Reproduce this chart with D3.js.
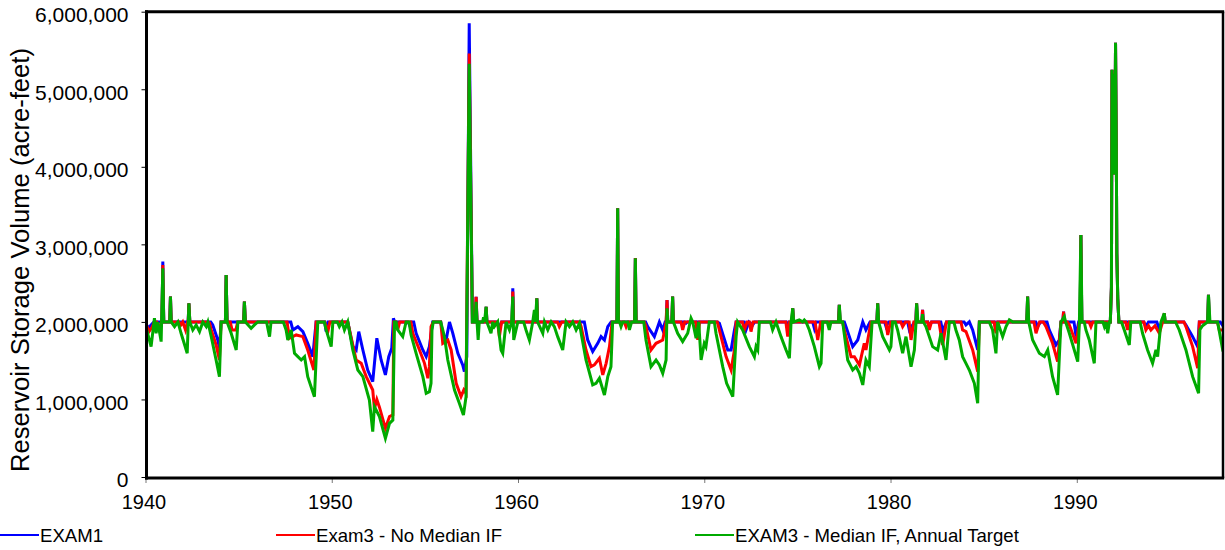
<!DOCTYPE html>
<html>
<head>
<meta charset="utf-8">
<script src="https://cdn.jsdelivr.net/npm/d3@7"></script>
<style>
  body{margin:0;background:#fff;}
  svg text{font-family:"Liberation Sans",Arial,sans-serif;fill:#000;}
</style>
</head>
<body>
<svg id="chart"></svg>
<script>
// storage values are in thousand acre-feet, [decimal year, value]
var spike1992=[[1991.80,2000],[1991.86,2450],[1991.89,5250],[1991.92,3900],[1991.95,5200],[1991.98,3900],[1992.01,5150],[1992.04,4000],[1992.08,5600],[1992.12,4300],[1992.15,2880],[1992.20,2300],[1992.26,2000]];

var exam1=[
[1940.00,1990],[1940.15,1920],[1940.30,1960],[1940.45,2000],
[1940.88,2000],[1940.93,2778],[1940.98,2000],
[1941.30,2000],[1941.34,2326],[1941.38,2000],
[1942.29,2000],[1942.33,2240],[1942.38,2000],
[1943.50,2000],[1943.61,1961],[1943.88,1767],[1943.97,1660],[1944.06,2000],
[1944.29,2000],[1944.33,2606],[1944.38,2000],
[1945.27,2000],[1945.31,2262],[1945.36,2000],
[1947.80,2000],[1947.91,1896],[1948.18,1939],[1948.45,1875],[1948.71,1724],[1948.98,1552],[1949.16,2000],
[1949.62,2000],[1949.70,1875],[1949.80,2000],
[1950.86,2000],[1951.13,1681],[1951.31,1638],[1951.45,1875],[1951.67,1638],[1951.93,1380],[1952.20,1230],[1952.42,1789],[1952.65,1509],[1952.88,1316],[1953.06,1552],[1953.22,1660],[1953.31,2047],[1953.38,2000],
[1954.10,2000],[1954.17,1961],[1954.26,2000],[1954.40,2000],[1954.53,1853],[1954.89,1638],[1955.07,1552],[1955.24,1680],[1955.42,2000],
[1955.85,2000],[1955.96,1853],[1956.14,1767],[1956.32,2000],[1956.50,1853],[1956.77,1595],[1957.03,1445],[1957.12,1359],[1957.25,1552],
[1957.38,5850],[1957.55,2000],
[1957.70,2000],[1957.75,2325],[1957.80,2000],
[1958.25,2000],[1958.29,2196],[1958.33,2000],
[1958.90,2000],[1959.00,1896],[1959.12,2000],
[1959.68,2000],[1959.72,2434],[1959.76,2000],
[1960.97,2000],[1961.01,2304],[1961.05,2000],
[1963.56,2000],[1963.74,1767],[1964.01,1617],[1964.28,1724],[1964.46,1810],[1964.64,1767],[1964.82,1939],[1965.00,2000],
[1965.31,2000],[1965.35,3465],[1965.39,2000],
[1966.26,2000],[1966.30,2825],[1966.34,2000],
[1966.85,2000],[1966.96,1939],[1967.32,1810],[1967.59,2000],[1967.77,1896],[1967.90,2000],
[1967.96,2000],[1968.00,2283],[1968.04,2000],
[1968.26,2000],[1968.30,2326],[1968.34,2000],
[1968.95,2000],[1969.02,1983],[1969.10,2000],
[1970.70,2000],[1970.81,1983],[1971.26,1638],[1971.44,1638],[1971.62,1896],[1971.71,2000],
[1972.15,2000],[1972.24,1896],[1972.40,2000],[1972.60,1961],[1972.70,2000],
[1974.40,2000],[1974.48,1939],[1974.56,2000],
[1974.71,2000],[1974.75,2176],[1974.79,2000],
[1975.82,2000],[1975.91,1918],[1976.00,2000],
[1977.21,2000],[1977.25,2219],[1977.29,2000],
[1977.52,2000],[1977.61,1939],[1977.97,1681],[1978.24,1767],[1978.51,2000],[1978.68,1896],[1978.90,2000],
[1979.27,2000],[1979.31,2240],[1979.35,2000],
[1979.68,2000],[1979.76,1939],[1979.90,2000],
[1980.92,2000],[1981.01,1896],[1981.19,1961],[1981.30,2000],
[1981.36,2000],[1981.40,2240],[1981.44,2000],
[1981.68,2000],[1981.72,2155],[1981.76,2000],
[1982.00,2000],[1982.08,1939],[1982.20,2000],[1982.70,2000],[1982.80,1875],[1983.00,2000],
[1983.95,2000],[1984.05,1961],[1984.23,2000],[1984.41,1896],[1984.68,1638],[1984.77,2000],
[1985.58,2000],[1985.66,1896],[1985.75,2000],
[1987.32,2000],[1987.36,2326],[1987.40,2000],
[1987.80,2000],[1987.90,1939],[1988.05,2000],[1988.40,2000],[1988.52,1896],[1988.88,1703],[1989.06,1767],[1989.15,2000],
[1989.25,2000],[1989.29,2133],[1989.33,2000],
[1989.85,2000],[1989.96,1810],[1990.10,2000],
[1990.18,2000],[1990.22,3120],[1990.27,2000]
].concat(spike1992,[
[1993.60,2000],[1993.71,1939],[1993.85,2000],[1994.30,2000],[1994.43,1896],[1994.55,2000],
[1994.66,2000],[1994.70,2111],[1994.74,2000],
[1995.75,2000],[1995.86,1961],[1996.22,1810],[1996.49,1681],[1996.58,2000],
[1997.03,2000],[1997.07,2348],[1997.11,2000],
[1997.70,2000],[1997.85,1950]
]);

var exam3NoMedian=[
[1940.00,1980],[1940.20,1880],[1940.35,1930],[1940.48,2000],
[1940.60,2000],[1940.75,1896],[1940.85,2000],
[1940.88,2000],[1940.93,2735],[1940.98,2000],
[1941.30,2000],[1941.34,2326],[1941.38,2000],
[1941.80,2000],[1941.90,1961],[1942.00,2000],[1942.15,1896],[1942.26,2000],
[1942.29,2000],[1942.33,2240],[1942.38,2000],
[1943.35,2000],[1943.44,1983],[1943.53,1896],[1943.79,1703],[1943.97,1509],[1944.06,2000],
[1944.29,2000],[1944.33,2606],[1944.38,2000],
[1944.55,2000],[1944.65,1896],[1944.85,1896],[1944.95,2000],
[1945.27,2000],[1945.31,2262],[1945.36,2000],
[1947.60,2000],[1947.73,1789],[1948.09,1832],[1948.45,1810],[1948.71,1638],[1949.04,1380],[1949.16,2000],
[1949.62,2000],[1949.79,1875],[1949.90,2000],
[1950.86,2000],[1951.13,1700],[1951.31,1509],[1951.58,1466],[1951.85,1294],[1952.20,1122],[1952.29,880],[1952.42,1000],[1952.56,900],[1952.88,628],[1953.10,780],[1953.28,800],[1953.33,2000],
[1953.45,2000],[1953.54,1896],[1953.65,2000],
[1954.25,2000],[1954.35,1853],[1954.71,1638],[1954.98,1466],[1955.16,1273],[1955.24,1423],[1955.33,1939],[1955.45,2000],
[1955.85,2000],[1955.96,1724],[1956.23,1767],[1956.41,1638],[1956.68,1208],[1956.94,1036],[1957.09,1122],[1957.21,1079],
[1957.38,5460],[1957.55,2000],
[1957.70,2000],[1957.75,2325],[1957.80,2000],
[1958.25,2000],[1958.29,2196],[1958.33,2000],
[1958.90,2000],[1959.00,1810],[1959.12,2000],
[1959.68,2000],[1959.72,2390],[1959.76,2000],
[1960.97,2000],[1961.01,2304],[1961.05,2000],
[1962.12,2000],[1962.22,1939],[1962.35,2000],
[1963.30,2000],[1963.39,1939],[1963.65,1638],[1963.92,1423],[1964.10,1445],[1964.37,1531],[1964.55,1316],[1964.73,1466],[1964.91,1681],[1965.05,2000],
[1965.31,2000],[1965.35,3465],[1965.39,2000],
[1965.70,2000],[1965.80,1939],[1965.90,2000],
[1966.26,2000],[1966.30,2825],[1966.34,2000],
[1966.78,2000],[1966.87,1939],[1967.14,1638],[1967.41,1724],[1967.77,1767],[1967.95,2000],
[1968.00,2283],[1968.04,2000],
[1968.26,2000],[1968.30,2326],[1968.34,2000],
[1968.75,2000],[1968.84,1896],[1968.95,2000],
[1969.55,2000],[1969.65,1767],[1969.75,2000],
[1970.70,2000],[1970.81,1896],[1971.17,1552],[1971.44,1380],[1971.62,1638],[1971.71,2000],
[1972.05,2000],[1972.15,1896],[1972.30,2000],[1972.42,2000],[1972.51,1875],[1972.62,2000],
[1974.38,2000],[1974.48,1810],[1974.58,2000],
[1974.71,2000],[1974.75,2176],[1974.79,2000],
[1975.95,2000],[1976.09,1767],[1976.25,2000],
[1977.21,2000],[1977.25,2219],[1977.29,2000],
[1977.42,2000],[1977.52,1896],[1977.88,1552],[1978.06,1552],[1978.33,1445],[1978.59,1724],[1978.68,1638],[1978.95,2000],
[1979.27,2000],[1979.31,2240],[1979.35,2000],
[1979.75,2000],[1979.85,1832],[1980.00,2000],
[1980.55,2000],[1980.65,1939],[1980.80,2000],[1981.00,2000],[1981.10,1767],[1981.25,2000],
[1981.36,2000],[1981.40,2240],[1981.44,2000],
[1981.68,2000],[1981.72,2155],[1981.76,2000],
[1982.00,2000],[1982.08,1896],[1982.20,2000],[1982.60,2000],[1982.80,1703],[1983.00,2000],
[1983.78,2000],[1983.87,1896],[1984.05,1875],[1984.41,1638],[1984.68,1359],[1984.77,2000],
[1985.56,2000],[1985.66,1853],[1985.75,2000],
[1987.32,2000],[1987.36,2326],[1987.40,2000],
[1987.70,2000],[1987.81,1853],[1988.00,2000],[1988.20,2000],[1988.35,1939],[1988.70,1724],[1988.97,1488],[1989.15,2000],
[1989.25,2000],[1989.29,2133],[1989.33,2000],
[1989.50,2000],[1989.60,1961],[1989.96,1724],[1990.14,2000],
[1990.18,2000],[1990.22,3120],[1990.27,2000],
[1990.66,2000],[1990.76,1939],[1990.86,2000]
].concat(spike1992,[
[1992.62,2000],[1992.73,1896],[1992.82,2000],
[1993.60,2000],[1993.71,1896],[1993.85,1950],[1993.98,1896],[1994.20,1950],[1994.43,1853],[1994.61,2000],
[1994.70,2111],[1994.74,2000],
[1995.75,2000],[1995.86,1939],[1996.22,1681],[1996.49,1402],[1996.58,2000],
[1997.03,2000],[1997.07,2348],[1997.11,2000],
[1997.55,2000],[1997.65,1896],[1997.85,1896]
]);

var exam3Median=[
[1940.00,1960],[1940.30,1681],[1940.48,2047],[1940.57,1853],[1940.66,2000],[1940.84,1746],
[1940.93,2692],[1940.98,2000],
[1941.30,2000],[1941.34,2326],[1941.38,2000],
[1941.56,1939],[1941.74,2000],[1941.91,1853],[1942.24,1595],
[1942.33,2240],[1942.38,2000],
[1942.54,1896],[1942.72,1961],[1942.90,1875],[1943.08,2000],[1943.26,1939],[1943.35,2000],[1943.53,1810],[1943.79,1509],[1943.97,1294],[1944.06,2000],
[1944.29,2000],[1944.33,2606],[1944.38,2000],
[1944.60,1853],[1944.87,1638],[1944.96,2000],
[1945.27,2000],[1945.31,2262],[1945.36,2000],
[1945.67,1918],[1945.85,1961],[1946.03,2000],
[1946.50,2000],[1946.66,1810],[1946.74,2000],
[1947.40,2000],[1947.55,1896],[1947.64,1767],[1947.82,1896],[1948.00,1595],[1948.18,1552],[1948.36,1509],[1948.54,1552],[1948.71,1294],[1948.89,1165],[1949.07,1036],[1949.25,2000],
[1949.60,2000],[1949.70,1896],[1949.97,1681],[1950.06,2000],
[1950.30,2000],[1950.41,1939],[1950.55,2000],[1950.68,1896],[1950.86,2000],
[1951.13,1638],[1951.40,1380],[1951.67,1294],[1952.02,993],[1952.20,585],[1952.29,907],[1952.56,778],[1952.88,499],[1953.10,692],[1953.28,735],[1953.37,2000],
[1953.45,2000],[1953.54,1896],[1953.81,1810],[1953.99,2000],
[1954.15,2000],[1954.26,1832],[1954.53,1595],[1954.89,1294],[1955.07,1079],[1955.24,1100],[1955.33,1208],[1955.38,1900],[1955.45,2000],
[1955.85,2000],[1956.05,1810],[1956.23,1509],[1956.59,1122],[1956.85,950],[1957.07,800],[1957.21,1036],
[1957.38,5330],[1957.55,2000],
[1957.70,2000],[1957.75,2260],[1957.80,2000],[1957.86,1767],[1957.92,2000],
[1958.10,2000],[1958.15,2060],[1958.20,2000],
[1958.29,2196],[1958.33,2000],
[1958.55,1853],[1958.64,2000],[1958.73,1939],[1958.91,2000],[1959.09,1638],[1959.18,1595],[1959.36,2000],[1959.54,1896],[1959.66,2000],
[1959.72,2326],[1959.77,1767],[1959.99,2000],
[1960.30,2000],[1960.43,1896],[1960.61,1767],[1960.79,2000],
[1960.88,2155],[1960.93,2000],[1961.01,2304],[1961.05,2000],
[1961.33,1853],[1961.42,2000],[1961.60,1896],[1961.78,2000],[1961.95,1939],[1962.13,1810],[1962.40,1638],[1962.58,2000],[1962.76,1939],[1962.94,2000],[1963.12,1896],[1963.30,1983],[1963.39,1853],
[1963.65,1509],[1964.01,1187],[1964.19,1208],[1964.37,1273],[1964.64,1058],[1964.82,1294],[1964.99,1423],[1965.08,2000],
[1965.31,2000],[1965.35,3465],[1965.39,2000],
[1965.45,2000],[1965.53,1939],[1965.62,2000],[1965.90,2000],[1965.98,1896],[1966.10,2000],
[1966.26,2000],[1966.30,2820],[1966.34,2000],
[1966.75,2000],[1966.87,1767],[1967.14,1423],[1967.41,1509],[1967.59,1445],[1967.77,1337],[1967.95,1509],
[1968.00,2176],[1968.04,2000],
[1968.26,2000],[1968.30,2326],[1968.34,2000],
[1968.57,1853],[1968.84,1746],[1969.11,1853],[1969.29,2047],[1969.38,2000],[1969.56,1789],[1969.70,2000],[1969.83,1509],[1970.00,1724],[1970.09,1681],[1970.27,2000],
[1970.54,2000],[1970.63,1853],[1970.99,1423],[1971.20,1208],[1971.53,1036],[1971.71,1810],[1971.79,2000],
[1972.06,1896],[1972.42,1681],[1972.69,1552],[1972.78,1681],[1972.87,1638],[1972.96,2000],
[1973.55,2000],[1973.67,1896],[1973.85,2000],[1974.12,1810],[1974.39,1638],[1974.57,1531],[1974.66,2000],
[1974.75,2176],[1974.80,2000],
[1975.10,2025],[1975.28,2000],[1975.37,2025],[1975.46,2000],
[1975.64,1896],[1975.91,1681],[1976.18,1423],[1976.27,1466],[1976.36,2000],
[1976.60,2000],[1976.71,1896],[1976.80,2000],
[1977.21,2000],[1977.25,2219],[1977.31,2000],
[1977.43,2000],[1977.70,1509],[1977.97,1380],[1978.15,1423],[1978.33,1337],[1978.51,1187],[1978.68,1509],[1978.86,1423],[1979.01,2000],
[1979.27,2000],[1979.31,2240],[1979.36,2000],
[1979.58,1810],[1979.94,1638],[1980.02,1681],[1980.11,2000],
[1980.25,2000],[1980.38,1896],[1980.65,1595],[1980.83,1810],[1981.10,1423],[1981.28,1638],[1981.37,2000],
[1981.40,2240],[1981.47,2000],
[1981.68,2000],[1981.72,2100],[1981.76,2000],
[1981.90,1939],[1982.26,1681],[1982.53,1638],[1982.71,1853],[1982.98,1509],[1983.16,2000],
[1983.40,2000],[1983.51,1896],[1983.69,1767],[1983.87,1552],[1984.05,1466],[1984.23,1380],[1984.50,1208],[1984.68,950],[1984.77,2000],
[1985.30,2000],[1985.48,1896],[1985.66,1595],[1985.75,2000],[1986.02,1810],[1986.20,1939],[1986.38,2025],[1986.56,2000],
[1987.31,2000],[1987.36,2326],[1987.42,2000],
[1987.63,1767],[1987.99,1595],[1988.26,1552],[1988.44,1638],[1988.70,1294],[1988.97,1058],[1989.15,2000],
[1989.33,2068],[1989.40,2000],[1989.60,1853],[1990.05,1488],[1990.14,2000],
[1990.22,3120],[1990.28,2000],
[1990.40,2000],[1990.49,1896],[1990.67,1767],[1990.94,1466],[1991.03,2000],
[1991.40,2000],[1991.48,1939],[1991.57,2000],[1991.66,1853],[1991.75,2000]
].concat(spike1992,[
[1992.40,2000],[1992.55,1896],[1992.82,1703],[1992.90,2000],
[1993.40,2000],[1993.53,1853],[1993.80,1638],[1994.07,1466],[1994.25,1638],[1994.34,1552],[1994.52,2000],
[1994.70,2111],[1994.74,2000],
[1995.30,2000],[1995.50,1896],[1995.86,1638],[1996.22,1294],[1996.54,1079],[1996.61,1900],[1996.75,1950],[1997.02,2000],
[1997.07,2348],[1997.15,2000],
[1997.56,2000],[1997.85,1620]
]);

var seriesNames=["EXAM1","Exam3 - No Median IF","EXAM3 - Median IF, Annual Target"];
var seriesColors=["#0000ff","#ff0000","#00aa00"];
var xTickYears=[1940,1950,1960,1970,1980,1990];
var yTickValues=[0,1000,2000,3000,4000,5000,6000];
var yTitle="Reservoir Storage Volume (acre-feet)";

var svgWidth=1225,svgHeight=550;
var plotLeft=145.5,plotRight=1223,plotTop=11.7,plotBottom=477;

var svg=d3.select('#chart')
  .attr('width',svgWidth)
  .attr('height',svgHeight);

var x=d3.scaleLinear().domain([1940,1997.85]).range([plotLeft,plotRight]);
var y=d3.scaleLinear().domain([0,6000]).range([plotBottom,plotTop]);

svg.append("clipPath").attr("id","plotclip")
  .append("rect").attr("x",plotLeft).attr("y",plotTop-2).attr("width",plotRight-plotLeft).attr("height",plotBottom-plotTop+2);

var line=d3.line()
  .x(function(d){return x(d[0])})
  .y(function(d){return y(d[1])});

var allSeries=[exam1,exam3NoMedian,exam3Median];
svg.append("g").attr("clip-path","url(#plotclip)")
  .selectAll("path")
  .data(allSeries)
  .enter().append("path")
    .attr("fill","none")
    .attr("stroke",function(d,i){return seriesColors[i]})
    .attr("stroke-width",3)
    .attr("stroke-linejoin","miter")
    .attr("d",line);

// y axis
var yAxis=svg.append("g")
  .attr("transform","translate("+(plotLeft+1)+",0)")
  .call(d3.axisLeft(y).tickValues(yTickValues).tickSize(5).tickPadding(13)
    .tickFormat(function(d){return d3.format(",")(d*1000)}));
yAxis.select(".domain").remove();
yAxis.selectAll(".tick line").attr("stroke","#000").attr("stroke-width",1);
yAxis.selectAll("text").style("font-size","21px").attr("dy","0.47em");

// x axis
var xAxis=svg.append("g")
  .attr("transform","translate(0,"+(plotBottom+1)+")")
  .call(d3.axisBottom(x).tickValues(xTickYears).tickSize(5).tickPadding(12)
    .tickFormat(d3.format("d")));
xAxis.select(".domain").remove();
xAxis.selectAll(".tick line").attr("stroke","#777").attr("stroke-width",1);
xAxis.selectAll("text").style("font-size","20px").attr("dx","-2");

// frame
svg.append("line").attr("x1",plotLeft+1).attr("x2",plotLeft+1).attr("y1",plotTop-1.5).attr("y2",plotBottom+2.5).attr("stroke","#000").attr("stroke-width",3);
svg.append("line").attr("x1",plotLeft-0.5).attr("x2",plotRight+1.2).attr("y1",plotBottom+1).attr("y2",plotBottom+1).attr("stroke","#000").attr("stroke-width",3.2);
svg.append("line").attr("x1",plotLeft-0.5).attr("x2",plotRight+1.2).attr("y1",plotTop).attr("y2",plotTop).attr("stroke","#000").attr("stroke-width",3);
svg.append("line").attr("x1",plotRight).attr("x2",plotRight).attr("y1",plotTop).attr("y2",plotBottom+1).attr("stroke","#000").attr("stroke-width",2.5);

// y title
svg.append("text")
  .attr("transform","translate(29,260) rotate(-90)")
  .attr("text-anchor","middle")
  .style("font-size","25.6px")
  .text(yTitle);

// legend
var legendX=[0,276,695];
var lg=svg.append("g").attr("transform","translate(0,535)");
seriesNames.forEach(function(name,i){
  lg.append("line").attr("x1",legendX[i]).attr("x2",legendX[i]+39)
    .attr("y1",0).attr("y2",0)
    .attr("stroke",seriesColors[i]).attr("stroke-width",2);
  lg.append("text").attr("x",legendX[i]+40).attr("y",6.5)
    .style("font-size","18.6px")
    .text(name);
});
</script>
</body>
</html>
